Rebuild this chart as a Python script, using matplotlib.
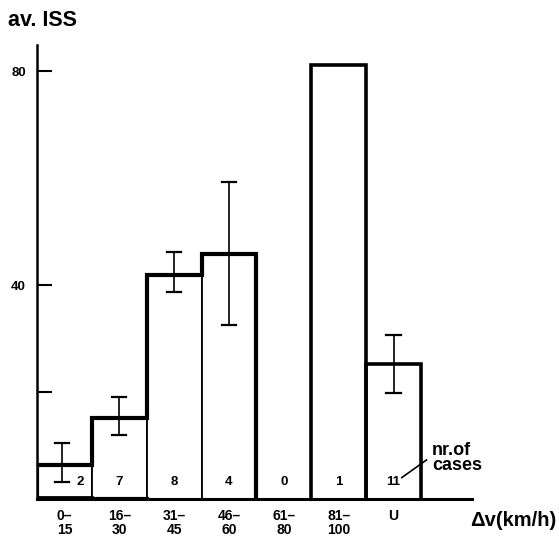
import matplotlib
matplotlib.use("Agg")
import matplotlib.pyplot as plt

categories = ["0–\n15", "16–\n30", "31–\n45", "46–\n60", "61–\n80", "81–\n100", "U"]
av_iss = [6.4, 15.1, 41.9, 45.8, 0, 81.1, 25.2]
err_low = [3.2, 12.0, 38.7, 32.5, None, None, 19.8]
err_high = [10.5, 19.1, 46.2, 59.3, None, None, 30.7]
n_cases = [2, 7, 8, 4, 0, 1, 11]

plt.rcParams['font.family'] = ['Liberation Sans', 'DejaVu Sans']
fig = plt.figure(figsize=(5.59, 5.39), dpi=100)
ax = fig.add_axes([37/559, 40/539, 435/559, 454/539])
ax.set_xlim(0, 7.93)
ax.set_ylim(0, 84.9)

xs = list(range(len(categories)))
# thin bars (interior lines)
ax.bar([x + 0.5 for x in xs], av_iss, width=1.0, color="white", edgecolor="black",
       linewidth=1.3, zorder=2)

# thick step outline for first four bins
sx, sy = [0], [0]
for i in range(4):
    sx += [i, i + 1]
    sy += [av_iss[i], av_iss[i]]
sx += [4]
sy += [0]
ax.plot(sx, sy, color="black", lw=3, solid_joinstyle="miter", zorder=3)
ax.plot([0, 2], [0, 0], color="black", lw=3, zorder=3)
ax.plot([0, 1], [0.3, 0.3], color="black", lw=2, zorder=3)
# thick outline for bars 6 and 7
for i in (5, 6):
    ax.plot([i, i, i + 1, i + 1], [0, av_iss[i], av_iss[i], 0], color="black", lw=2.6,
            solid_joinstyle="miter", zorder=3)

# error bars
for i in xs:
    if err_low[i] is None:
        continue
    xc = i + 0.5 - (0.05 if i == 0 else 0)
    ax.plot([xc, xc], [err_low[i], err_high[i]], color="black", lw=1.2, zorder=4)
    for yv in (err_low[i], err_high[i]):
        ax.plot([xc - 0.13, xc + 0.13], [yv, yv], color="black", lw=1.6, zorder=4)

# case counts
for i in xs:
    xt = i + 0.5 + (0.28 if i == 0 else 0)
    ax.text(xt, 3.2, str(n_cases[i]), ha="center", va="center", fontsize=9.5,
            fontweight="bold", zorder=5)

# spines and axes
for s in ("top", "right"):
    ax.spines[s].set_visible(False)
ax.spines["left"].set_linewidth(1.8)
ax.spines["bottom"].set_linewidth(2.2)
ax.spines["left"].set_zorder(6)
ax.set_yticks([20, 40, 80])
ax.set_yticklabels(["", "40", "80"], fontsize=9.5, fontweight="bold")
ax.tick_params(axis="y", direction="in", length=11, width=1.5, pad=8)
ax.set_xticks([x + 0.5 for x in xs])
ax.set_xticklabels(categories, fontsize=10, fontweight="bold", linespacing=1.05)
ax.tick_params(axis="x", length=0, pad=7)

fig.text(8/559, 1 - 20/539, "av. ISS", fontsize=15.5, fontweight="bold", va="center", ha="left")
fig.text(556/559, 1 - 521/539, "Δv(km/h)", fontsize=14.5, fontweight="bold", va="center", ha="right")
ax.text(7.2, 7.7, "nr.of\ncases", fontsize=13, fontweight="bold", va="center", ha="left",
        linespacing=0.8)
ax.plot([6.65, 7.1], [4.0, 7.3], color="black", lw=1.2)

fig.savefig("out.png", dpi=100, facecolor="white")
